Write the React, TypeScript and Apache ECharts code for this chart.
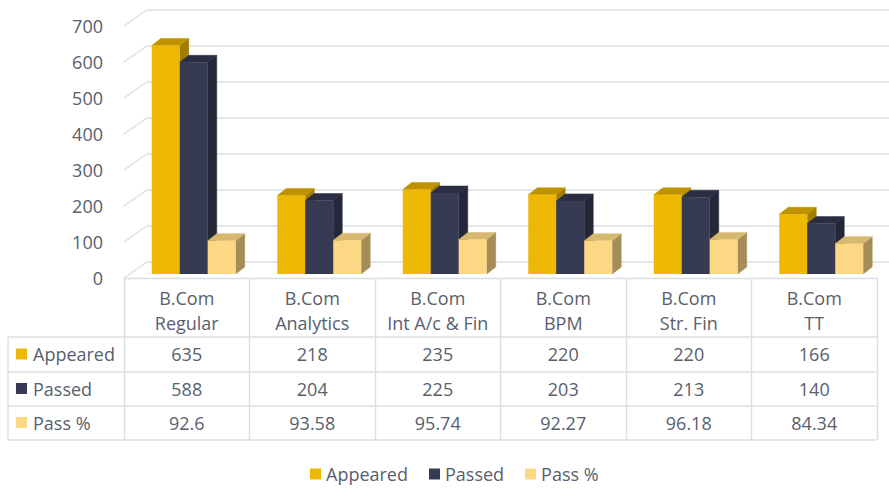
import React, { useEffect, useRef } from 'react';
import * as echarts from 'echarts';

const categories = ['B.Com\nRegular', 'B.Com\nAnalytics', 'B.Com\nInt A/c & Fin', 'B.Com\nBPM', 'B.Com\nStr. Fin', 'B.Com\nTT'];
const appeared = [635, 218, 235, 220, 220, 166];
const passed = [588, 204, 225, 203, 213, 140];
const passPct = [92.6, 93.58, 95.74, 92.27, 96.18, 84.34];
const seriesNames = ['Appeared', 'Passed', 'Pass %'];
const yTicks = [0, 100, 200, 300, 400, 500, 600, 700];

const GL = 124, GT = 26, GW = 753, GH = 252;
const WALL_DX = 23, WALL_DY = -16;
const BAR_DX = 7, BAR_DY = -4;
const DEPTH_DX = 9, DEPTH_DY = -7;
const BAR_FRAC = 0.223;
const rowY = [354, 388.5, 422.5];
const rowLines = [337, 372, 406, 440];
const TABLE_LEFT = 8;
const FONT = 'Open Sans';
const TXT = '#58606e';
const LINE = '#DADEE5';

const palette = [
  { front: '#EEB704', top: '#BF9300', side: '#A17E00' },
  { front: '#363A53', top: '#2B2E42', side: '#24263A' },
  { front: '#FDD884', top: '#D6B86E', side: '#A58D57' },
];

const makeBarRender = (k: number) => (params: any, api: any) => {
  const ci = api.value(0);
  const v = api.value(1);
  const c0 = api.coord([ci, 0]);
  const c1 = api.coord([ci, v]);
  const bandW = api.size([1, 0])[0];
  const bw = bandW * BAR_FRAC;
  const x0 = c0[0] - 1.5 * bw + BAR_DX + k * bw;
  const x1 = x0 + bw;
  const yb = c0[1] + BAR_DY;
  const yt = c1[1] + BAR_DY;
  const p = palette[k];
  return {
    type: 'group',
    children: [
      {
        type: 'polygon',
        shape: { points: [[x1, yt], [x1 + DEPTH_DX, yt + DEPTH_DY], [x1 + DEPTH_DX, yb + DEPTH_DY], [x1, yb]] },
        style: { fill: p.side, stroke: p.side, lineWidth: 0.5 },
      },
      {
        type: 'polygon',
        shape: { points: [[x0, yt], [x1, yt], [x1 + DEPTH_DX, yt + DEPTH_DY], [x0 + DEPTH_DX, yt + DEPTH_DY]] },
        style: { fill: p.top, stroke: p.top, lineWidth: 0.5 },
      },
      {
        type: 'rect',
        shape: { x: x0, y: yt, width: bw, height: yb - yt },
        style: { fill: p.front },
      },
      {
        type: 'text',
        style: {
          text: String(v),
          x: c0[0],
          y: rowY[k],
          align: 'center',
          verticalAlign: 'middle',
          fill: TXT,
          font: `18px "${FONT}"`,
        },
      },
    ],
  };
};

const frameRender = (params: any, api: any) => {
  const v = api.value(1);
  const c = api.coord([0, v]);
  const bandW = api.size([1, 0])[0];
  const left = c[0] - bandW / 2;
  const right = left + bandW * categories.length;
  const y = c[1];
  return {
    type: 'polyline',
    shape: { points: [[left, y], [left + WALL_DX, y + WALL_DY], [right + WALL_DX, y + WALL_DY]] },
    style: { stroke: LINE, lineWidth: 1.4, fill: null },
  };
};

export default function App() {
  const ref = useRef<HTMLDivElement>(null);
  useEffect(() => {
    if (!ref.current) return;
    const chart = echarts.init(ref.current, null, { renderer: 'svg' });
    const seriesData = [appeared, passed, passPct];
    const graphic: any[] = [];
    rowLines.forEach((y) => {
      graphic.push({
        type: 'line',
        shape: { x1: TABLE_LEFT, y1: y, x2: GL + GW, y2: y },
        style: { stroke: LINE, lineWidth: 1.4 },
      });
    });
    graphic.push({
      type: 'line',
      shape: { x1: TABLE_LEFT, y1: rowLines[0], x2: TABLE_LEFT, y2: rowLines[rowLines.length - 1] },
      style: { stroke: LINE, lineWidth: 1.4 },
    });
    seriesNames.forEach((n, k) => {
      graphic.push({
        type: 'rect',
        shape: { x: 16, y: rowY[k] - 5.5, width: 11, height: 11 },
        style: { fill: palette[k].front },
      });
      graphic.push({
        type: 'text',
        style: {
          text: n,
          x: 33,
          y: rowY[k],
          verticalAlign: 'middle',
          fill: TXT,
          font: `18px "${FONT}"`,
        },
      });
    });

    chart.setOption({
      animation: false,
      backgroundColor: '#ffffff',
      textStyle: { fontFamily: FONT },
      grid: { left: GL, top: GT, width: GW, height: GH },
      legend: {
        data: seriesNames,
        left: 305,
        top: 460,
        icon: 'rect',
        itemWidth: 11,
        itemHeight: 11,
        itemGap: 21,
        textStyle: { fontSize: 18, color: TXT, fontFamily: FONT },
      },
      xAxis: {
        type: 'category',
        data: categories,
        axisLine: { show: true, lineStyle: { color: LINE, width: 1.4 } },
        axisTick: { show: true, length: 162, lineStyle: { color: LINE, width: 1.4 } },
        axisLabel: { fontSize: 18, lineHeight: 25, color: TXT, margin: 7, interval: 0, fontFamily: FONT },
        splitLine: { show: false },
      },
      yAxis: {
        type: 'value',
        min: yTicks[0],
        max: yTicks[yTicks.length - 1],
        interval: yTicks[1] - yTicks[0],
        axisLine: { show: false },
        axisTick: { show: false },
        splitLine: { show: false },
        axisLabel: { fontSize: 18, color: TXT, margin: 21, fontFamily: FONT },
      },
      graphic,
      series: [
        {
          type: 'custom',
          name: 'frame',
          renderItem: frameRender,
          data: yTicks.map((v) => [0, v]),
          encode: { x: 0, y: 1 },
          silent: true,
          z: 1,
        },
        ...seriesNames.map((n, k) => ({
          type: 'custom',
          name: n,
          renderItem: makeBarRender(k),
          data: seriesData[k].map((v, i) => [i, v]),
          encode: { x: 0, y: 1 },
          itemStyle: { color: palette[k].front },
          z: 2 + k,
        })),
      ],
    });
    return () => chart.dispose();
  }, []);
  return (
    <div
      ref={ref}
      style={{ position: 'fixed', left: 0, top: 0, width: 889, height: 489, background: '#fff' }}
    />
  );
}
